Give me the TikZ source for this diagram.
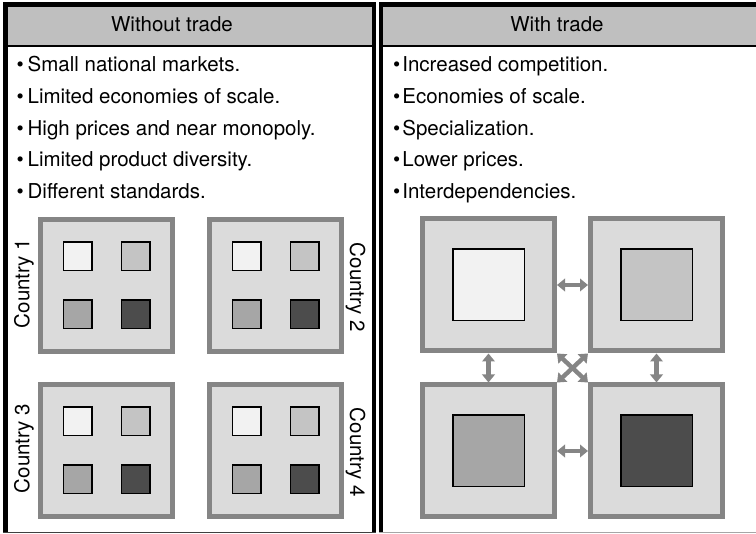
\documentclass[tikz,border=0pt]{standalone}
\usepackage{fontspec}
\setmainfont{TeX Gyre Heros}
\usetikzlibrary{arrows.meta, positioning}

\definecolor{headgray}{gray}{0.75}
\definecolor{boxfill}{gray}{0.86}
\definecolor{boxedge}{gray}{0.52}
\definecolor{goodA}{gray}{0.95}
\definecolor{goodB}{gray}{0.77}
\definecolor{goodC}{gray}{0.65}
\definecolor{goodD}{gray}{0.30}

\begin{document}
\begin{tikzpicture}[
    x=1pt, y=-1pt,
    font=\fontsize{20.5}{24}\selectfont,
    title/.style={anchor=base, inner sep=0},
    point/.style={inner sep=0, text height=15pt, text depth=5pt},
    country/.style={rectangle, draw=boxedge, line width=5pt, fill=boxfill, minimum size=132pt, inner sep=0},
    good/.style={rectangle, draw=black, line width=1.2pt, minimum size=28.8pt, inner sep=0},
    bigood/.style={rectangle, draw=black, line width=1.5pt, minimum size=71.5pt, inner sep=0},
    trade/.style={{Triangle[length=8pt,width=12.5pt]}-{Triangle[length=8pt,width=12.5pt]}, line width=4.4pt, draw=boxedge}
]
\useasboundingbox (0,0) rectangle (756,534);

% Panel frames
\fill[headgray] (8,7) rectangle (372,45);
\fill[headgray] (383,7) rectangle (756,45);
\fill (3,2) rectangle (376,7);
\fill (379,2) rectangle (756,7);
\fill (3,2) rectangle (8,533);
\fill (372,2) rectangle (376,533);
\fill (379,2) rectangle (383,533);
\draw[line width=2pt] (3,46) -- (376,46);
\draw[line width=2pt] (379,46) -- (756,46);
\draw[black!75] (3,532.5) -- (376,532.5);
\draw[black!35] (379,532.5) -- (756,532.5);

% Titles
\node[title] (without) at (172,32) {Without trade};
\node[title] (with) at (557,32) {With trade};

% Without trade: points
\node[point, anchor=base west] (p1) at (16.3,72) {\textbullet\hspace{4pt}Small national markets.};
\node[point, below=11.2pt of p1.south west, anchor=north west] (p2) {\textbullet\hspace{4pt}Limited economies of scale.};
\node[point, below=11.2pt of p2.south west, anchor=north west] (p3) {\textbullet\hspace{4pt}High prices and near monopoly.};
\node[point, below=11.2pt of p3.south west, anchor=north west] (p4) {\textbullet\hspace{4pt}Limited product diversity.};
\node[point, below=11.2pt of p4.south west, anchor=north west] (p5) {\textbullet\hspace{4pt}Different standards.};

% With trade: points
\node[point, anchor=base west] (q1) at (393,72) {\textbullet\hspace{2pt}Increased competition.};
\node[point, below=11.2pt of q1.south west, anchor=north west] (q2) {\textbullet\hspace{2pt}Economies of scale.};
\node[point, below=11.2pt of q2.south west, anchor=north west] (q3) {\textbullet\hspace{2pt}Specialization.};
\node[point, below=11.2pt of q3.south west, anchor=north west] (q4) {\textbullet\hspace{2pt}Lower prices.};
\node[point, below=11.2pt of q4.south west, anchor=north west] (q5) {\textbullet\hspace{2pt}Interdependencies.};

% Countries without trade
\node[country] (c1) at (106.5,285.5) {};
\node[country, right=32pt of c1] (c2) {};
\node[country, below=28pt of c1] (c3) {};
\node[country, right=32pt of c3] (c4) {};

\foreach \c in {c1,c2,c3,c4} {
    \node[good, fill=goodA] (\c-a) at ([shift={(-29,-29)}]\c.center) {};
    \node[good, fill=goodB] (\c-b) at ([shift={(29,-29)}]\c.center) {};
    \node[good, fill=goodC] (\c-c) at ([shift={(-29,29)}]\c.center) {};
    \node[good, fill=goodD] (\c-d) at ([shift={(29,29)}]\c.center) {};
}

\node[rotate=90] (l1) at ([xshift=-14pt,yshift=2pt]c1.west) {Country 1};
\node[rotate=-90] (l2) at ([xshift=11.5pt,yshift=-2pt]c2.east) {Country 2};
\node[rotate=90] (l3) at ([xshift=-14pt,yshift=2pt]c3.west) {Country 3};
\node[rotate=-90] (l4) at ([xshift=11.5pt,yshift=-2pt]c4.east) {Country 4};

% Countries with trade
\node[country] (m1) at (488.5,285) {};
\node[country, right=31pt of m1] (m2) {};
\node[country, below=29pt of m1] (m3) {};
\node[country, right=31pt of m3] (m4) {};

\node[bigood, fill=goodA] (s1) at (m1) {};
\node[bigood, fill=goodB] (s2) at (m2) {};
\node[bigood, fill=goodC] (s3) at (m3) {};
\node[bigood, fill=goodD] (s4) at (m4) {};

% Trade links
\draw[trade] (m1.east) -- (m2.west);
\draw[trade] (m3.east) -- (m4.west);
\draw[trade] (m1.south) -- (m3.north);
\draw[trade] (m2.south) -- (m4.north);
\draw[trade] (m1.south east) -- (m4.north west);
\draw[trade] (m2.south west) -- (m3.north east);

\end{tikzpicture}
\end{document}
